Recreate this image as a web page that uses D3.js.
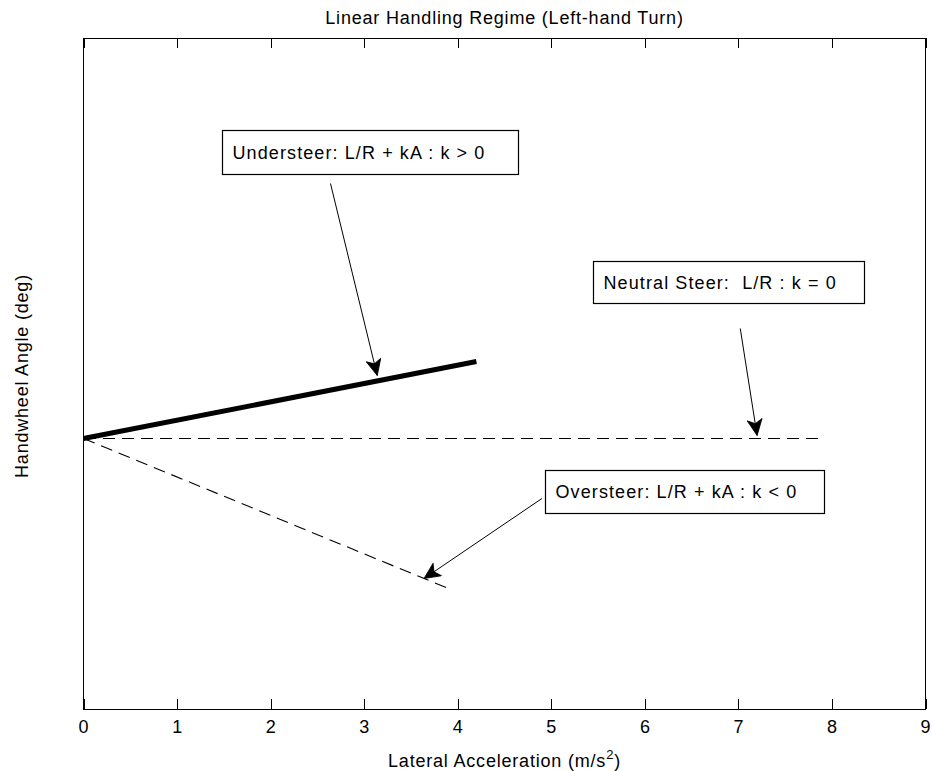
<!DOCTYPE html>
<html>
<head>
<meta charset="utf-8">
<script src="https://cdnjs.cloudflare.com/ajax/libs/d3/7.8.5/d3.min.js"></script>
<style>
  body { margin: 0; background: #fff; }
  svg text {
    font-family: "Liberation Sans", Arial, sans-serif;
    font-size: 18px;
    letter-spacing: 0.8px;
    fill: #000;
    white-space: pre;
  }
  svg text.note { letter-spacing: 1.1px; }
</style>
</head>
<body>
<svg width="932" height="771"></svg>
<script>
// Axis ticks (the y axis carries no ticks in the original).
var xTicks = [0, 1, 2, 3, 4, 5, 6, 7, 8, 9];

// Handwheel angle vs lateral acceleration for the three regimes.
var understeerAccel = [0, 4.2];
var understeerAngle = [0, 0.77];
var neutralAccel = [0, 7.9];
var neutralAngle = [0, 0];
var oversteerAccel = [0, 3.9];
var oversteerAngle = [0, -1.5];

// Annotation texts.
var noteTexts = [
    "Understeer: L/R + kA : k > 0",
    "Neutral Steer:  L/R : k = 0",
    "Oversteer: L/R + kA : k < 0"
];

var width = 932, height = 771;
var margin = {top: 38, right: 7, bottom: 62, left: 83};

var svg = d3.select("svg");

var x = d3.scaleLinear()
    .domain([0, 9])
    .range([margin.left + 0.5, width - margin.right + 0.5]);
var y = d3.scaleLinear()
    .domain([-2.71, 4])
    .range([height - margin.bottom + 0.5, margin.top + 0.5]);

// Arrow head, MATLAB "vback2" style.
svg.append("defs").append("marker")
    .attr("id", "head")
    .attr("viewBox", "-17 -8 18 16")
    .attr("markerWidth", 18)
    .attr("markerHeight", 16)
    .attr("markerUnits", "userSpaceOnUse")
    .attr("refX", 0)
    .attr("refY", 0)
    .attr("orient", "auto")
    .append("path")
    .attr("d", "M0,0 L-16,-7.5 L-12,0 L-16,7.5 Z")
    .attr("fill", "#000")
    .attr("stroke", "#000")
    .attr("stroke-width", 0.8);

// Bottom axis with inward ticks.
var bottomAxis = svg.append("g")
    .attr("transform", "translate(0," + (height - margin.bottom) + ")")
    .call(d3.axisBottom(x).tickValues(xTicks).tickSizeInner(-10).tickSizeOuter(0).tickPadding(11));
bottomAxis.select(".domain").remove();
bottomAxis.selectAll("line").attr("stroke", "#000").attr("shape-rendering", "crispEdges");

// Mirrored top ticks, no labels.
var topAxis = svg.append("g")
    .attr("transform", "translate(0," + margin.top + ")")
    .call(d3.axisTop(x).tickValues(xTicks).tickSizeInner(-10).tickSizeOuter(0).tickFormat(""));
topAxis.select(".domain").remove();
topAxis.selectAll("line").attr("stroke", "#000").attr("shape-rendering", "crispEdges");

// Box around the plot area.
svg.append("rect")
    .attr("x", x(0))
    .attr("y", y(4))
    .attr("width", x(9) - x(0))
    .attr("height", y(-2.71) - y(4))
    .attr("fill", "none")
    .attr("stroke", "#000")
    .attr("shape-rendering", "crispEdges");

var line = d3.line()
    .x(function(d) { return x(d[0]); })
    .y(function(d) { return y(d[1]); });

svg.append("path")
    .datum(d3.zip(neutralAccel, neutralAngle))
    .attr("d", line)
    .attr("fill", "none")
    .attr("stroke", "#000")
    .attr("stroke-width", 1)
    .attr("stroke-dasharray", "12,7")
    .attr("shape-rendering", "crispEdges");

svg.append("path")
    .datum(d3.zip(oversteerAccel, oversteerAngle))
    .attr("d", line)
    .attr("fill", "none")
    .attr("stroke", "#000")
    .attr("stroke-width", 1.1)
    .attr("stroke-dasharray", "12,7");

svg.append("path")
    .datum(d3.zip(understeerAccel, understeerAngle))
    .attr("d", line)
    .attr("fill", "none")
    .attr("stroke", "#000")
    .attr("stroke-width", 5);

// Text boxes and arrows, placed in data units.
var notes = [
    {box: [1.48, 3.09, 4.64, 2.65], tail: [2.64, 2.55], tip: [3.14, 0.63]},
    {box: [5.45, 1.78, 8.34, 1.35], tail: [7.02, 1.10], tip: [7.20, 0.03]},
    {box: [4.93, -0.31, 7.92, -0.74], tail: [4.90, -0.60], tip: [3.64, -1.40]}
];

notes.forEach(function(n, i) {
    var g = svg.append("g");
    var x0 = Math.round(x(n.box[0])) + 0.5, x1 = Math.round(x(n.box[2])) + 0.5;
    var y0 = Math.round(y(n.box[1])) + 0.5, y1 = Math.round(y(n.box[3])) + 0.5;
    g.append("rect")
        .attr("x", x0)
        .attr("y", y0)
        .attr("width", x1 - x0)
        .attr("height", y1 - y0)
        .attr("fill", "#fff")
        .attr("stroke", "#000")
        .attr("stroke-width", 1.2);
    g.append("text")
        .attr("class", "note")
        .attr("x", x0 + 10)
        .attr("y", (y0 + y1) / 2)
        .attr("dy", "0.36em")
        .text(noteTexts[i]);
    g.append("line")
        .attr("x1", x(n.tail[0]))
        .attr("y1", y(n.tail[1]))
        .attr("x2", x(n.tip[0]))
        .attr("y2", y(n.tip[1]))
        .attr("stroke", "#000")
        .attr("stroke-width", 1)
        .attr("marker-end", "url(#head)");
});

// Title and axis labels.
svg.append("text")
    .attr("x", (x(0) + x(9)) / 2)
    .attr("y", 24)
    .attr("text-anchor", "middle")
    .text("Linear Handling Regime (Left-hand Turn)");

var xl = svg.append("text")
    .attr("x", (x(0) + x(9)) / 2)
    .attr("y", 767)
    .attr("text-anchor", "middle");
xl.append("tspan").text("Lateral Acceleration (m/s");
xl.append("tspan").attr("dy", -8).attr("font-size", "13px").text("2");
xl.append("tspan").attr("dy", 8).text(")");

svg.append("text")
    .attr("transform", "translate(28," + 376 + ") rotate(-90)")
    .attr("text-anchor", "middle")
    .text("Handwheel Angle (deg)");
</script>
</body>
</html>
